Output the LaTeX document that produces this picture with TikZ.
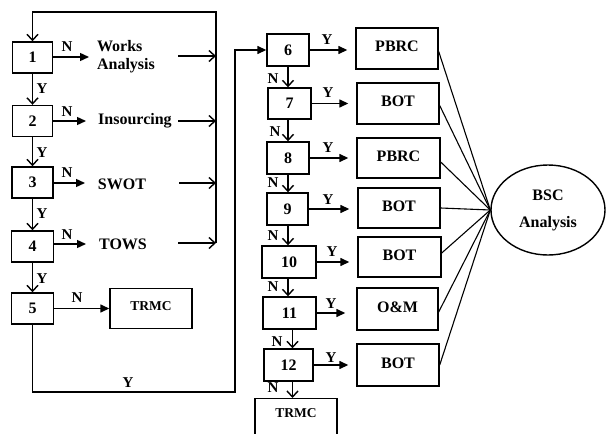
\documentclass[tikz,border=0pt]{standalone}
\usepackage{fontspec}
\setmainfont{Liberation Serif}
\usetikzlibrary{arrows.meta,shapes.geometric}
\begin{document}
\begin{tikzpicture}[x=1pt,y=-1pt,
  font=\fontsize{16}{18}\selectfont\bfseries,
  line width=1.4pt,
  box/.style={draw, inner sep=0pt, minimum height=31pt},
  pbox/.style={draw, inner sep=0pt, minimum width=82pt, minimum height=41pt, text height=10pt, text depth=4pt},
  txt/.style={inner sep=0pt},
  lbl/.style={font=\fontsize{15}{17}\selectfont\bfseries, inner sep=0pt},
  opn/.style={-{Straight Barb[length=6pt,width=11pt]}},
  fil/.style={-{Triangle[length=9pt,width=8pt]}},
  ]
\useasboundingbox (0,0) rectangle (606,434);

% left column
\node[box, minimum width=40pt] (b1) at (32.5,57.5) {1};
\node[box, minimum width=40pt] (b2) at (32.5,121) {2};
\node[box, minimum width=41pt] (b3) at (32.5,182.5) {3};
\node[box, minimum width=42pt] (b4) at (32.5,246.5) {4};
\node[box, minimum width=42pt] (b5) at (32.5,308.5) {5};

\node[txt, align=left] (wa) at (126,57) {Works\\Analysis};
\node[txt] (ins) at (135,121) {Insourcing};
\node[txt] (swot) at (122,184) {SWOT};
\node[txt] (tows) at (123,244) {TOWS};
\node[draw, inner xsep=0pt, inner ysep=0pt, minimum width=82pt, anchor=north,
      text height=22pt, text depth=18pt,
      font=\fontsize{13.5}{15}\selectfont\bfseries] (t5) at (151,288) {TRMC};

\coordinate (n1) at (89,57);
\coordinate (n2) at (86,121);
\coordinate (n3) at (85,183);
\coordinate (n4) at (86,244);
\coordinate (s1) at (178,56);
\coordinate (s2) at (178,121);
\coordinate (s3) at (179,183);
\coordinate (s4) at (178,243);
\coordinate (fc) at (216,12);
\coordinate (ft) at (216,243);
\coordinate (c2) at (235,392);

\draw[opn] (ft) -- (fc) -| (b1.north);
\draw[opn] (b1.south) -- (b2.north);
\draw[opn] (b2.south) -- (b3.north);
\draw[opn] (b3.south) -- (b4.north);
\draw[opn] (b4.south) -- (b5.north);
\draw[fil] (b1.east |- n1) -- (n1);
\draw[fil] (b2.east |- n2) -- (n2);
\draw[fil] (b3.east |- n3) -- (n3);
\draw[fil] (b4.east |- n4) -- (n4);
\draw[fil] (b5.east) -- (b5.east -| t5.west);
\draw[opn] (s1) -- (s1 -| fc);
\draw[opn] (s2) -- (s2 -| fc);
\draw[opn] (s3) -- (s3 -| fc);
\draw[opn] (s4) -- (ft);

\node[lbl] at (67,47) {N};
\node[lbl] at (67,112) {N};
\node[lbl] at (67,173) {N};
\node[lbl] at (67,235) {N};
\node[lbl] at (77,298) {N};
\node[lbl] at (42,89) {Y};
\node[lbl] at (42,153) {Y};
\node[lbl] at (42,214) {Y};
\node[lbl] at (42,279) {Y};
\node[lbl] at (128,383) {Y};

% right column
\node[box, minimum width=42pt, minimum height=32pt] (b6) at (288,50) {6};
\node[box, minimum width=43pt] (b7) at (289.5,103.5) {7};
\node[box, minimum width=42pt, minimum height=32pt] (b8) at (288,158) {8};
\node[box, minimum width=41pt, minimum height=32pt] (b9) at (287.5,209) {9};
\node[box, minimum width=54pt, minimum height=32pt] (b10) at (289,262) {10};
\node[box, minimum width=53pt, minimum height=32pt] (b11) at (289.5,313) {11};
\node[box, minimum width=49pt, minimum height=32pt] (b12) at (288.5,365) {12};

\node[pbox] (p6) at (397,48.5) {PBRC};
\node[pbox] (p7) at (398,103.5) {BOT};
\node[pbox, minimum height=40pt, minimum width=83pt] (p8) at (398.5,158) {PBRC};
\node[pbox, minimum height=40pt] (p9) at (399,208) {BOT};
\node[pbox, minimum height=40pt, minimum width=83pt] (p10) at (399.5,257) {BOT};
\node[pbox, minimum height=42pt, minimum width=81pt] (p11) at (397.5,309) {O\&M};
\node[pbox, minimum height=42pt] (p12) at (398,365) {BOT};

\node[draw, inner xsep=0pt, inner ysep=0pt, minimum width=82pt, anchor=north,
      text height=19pt, text depth=30pt,
      font=\fontsize{13.5}{15}\selectfont\bfseries] (t12) at (296,398) {TRMC};

\node[draw, ellipse, minimum width=114pt, minimum height=90pt, inner sep=0pt, align=center]
  (bsc) at (548,210) {BSC\\[9pt]Analysis};

\draw[fil] (b5.south) |- (c2) |- (b6.west);

\draw[opn] (b6.south) -- (b6.south |- b7.north);
\draw[opn] (b7.south -| b6.south) -- (b6.south |- b8.north);
\draw[opn] (b8.south) -- (b8.south |- b9.north);
\draw[opn] (b9.south -| b8.south) -- (b8.south |- b10.north);
\draw[opn] (b10.south -| b8.south) -- (b8.south |- b11.north);
\draw[opn] ([xshift=3pt]b11.south) -- ([xshift=3pt]b11.south |- b12.north);
\draw[opn] ([xshift=4pt]b12.south) -- ([xshift=4pt]b12.south |- t12.north);

\draw[fil, shorten >=8pt] (b6.east) -- (b6.east -| p6.west);
\draw[fil, shorten >=8pt] (b7.east) -- (b7.east -| p7.west);
\draw[fil, shorten >=8pt] (b8.east) -- (b8.east -| p8.west);
\draw[fil, shorten >=8pt] (b9.east) -- (b9.east -| p9.west);
\draw[fil, shorten >=8pt] (b10.east) -- (b10.east -| p10.west);
\draw[fil, shorten >=11pt] (b11.east) -- (b11.east -| p11.west);
\draw[fil, shorten >=8pt] (b12.east) -- (b12.east -| p12.west);

\node[lbl] at (273,79) {N};
\node[lbl] at (275,132) {N};
\node[lbl] at (273,183) {N};
\node[lbl] at (273,236) {N};
\node[lbl] at (273,287) {N};
\node[lbl] at (277,342) {N};
\node[lbl] at (273,388) {N};
\node[lbl] at (327,40) {Y};
\node[lbl] at (328,93) {Y};
\node[lbl] at (328,148) {Y};
\node[lbl] at (328,200) {Y};
\node[lbl] at (332,252) {Y};
\node[lbl] at (331,304) {Y};
\node[lbl] at (331,358) {Y};

\foreach \p/\dy in {p6/3,p7/2,p8/4,p9/0,p10/-4,p11/3,p12/0}
  \draw[line width=1.1pt] ([yshift=-\dy pt]\p.east) -- (bsc.west);
\end{tikzpicture}
\end{document}
